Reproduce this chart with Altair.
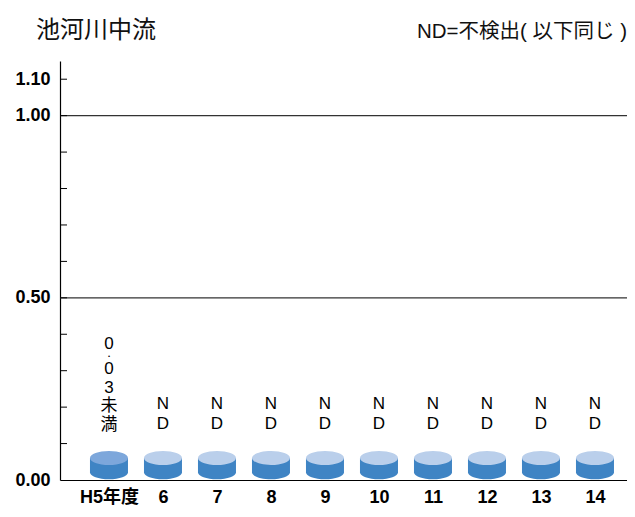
import altair as alt
import pandas as pd

# ---- data ----
categories = ["H5年度", "6", "7", "8", "9", "10", "11", "12", "13", "14"]
labels = ["0.03未満", "ND", "ND", "ND", "ND", "ND", "ND", "ND", "ND", "ND"]
status = ["lt", "nd", "nd", "nd", "nd", "nd", "nd", "nd", "nd", "nd"]
y_label_values = [0.0, 0.5, 1.0, 1.1]
grid_values = [0.5, 1.0]
minor_ticks = [0.1, 0.2, 0.3, 0.4, 0.5, 0.6, 0.7, 0.8, 0.9, 1.0, 1.1]
title_text = "池河川中流"
note_text = "ND=不検出( 以下同じ )"

FONT = "'Liberation Sans', 'Noto Sans CJK JP', sans-serif"
CJK = "'Noto Sans CJK JP', sans-serif"

df = pd.DataFrame({"i": list(range(len(categories))), "category": categories,
                   "label": labels, "status": status})

# labels are written vertically, one character per line; the integer part and the
# decimal point of "0.03未満" are set tighter, as in the reference
df["head"] = [l.split(".")[0] if "." in l else "" for l in labels]
df["dot"] = ["•" if "." in l else "" for l in labels]
df["rest"] = ["\n".join(l.split(".")[1] if "." in l else l) for l in labels]

W, H = 567, 419
xscale = alt.Scale(domain=[-0.907, 9.593], nice=False, zero=False)
yscale = alt.Scale(domain=[0, 1.15], nice=False, zero=True)

label_expr = "[" + ",".join("'" + c + "'" for c in categories) + "][datum.value]"
xaxis = alt.Axis(values=list(range(len(categories))), labelExpr=label_expr, ticks=False,
                 grid=False, title=None, labelPadding=8, labelFontSize=18,
                 labelFontWeight="bold", labelFont=FONT, labelColor="#000",
                 domainColor="#000", domainWidth=1.2, labelFlush=False)
yaxis = alt.Axis(values=y_label_values, format=".2f", ticks=False, grid=False, title=None,
                 labelPadding=10, labelFontSize=18, labelFontWeight="bold", labelFont=FONT,
                 labelColor="#000", domainColor="#000", domainWidth=1.2)

X = alt.X("i:Q", scale=xscale, axis=xaxis)
Y0 = alt.YDatum(0, type="quantitative", scale=yscale, axis=yaxis)

base = alt.Chart(df)

grid = alt.Chart(pd.DataFrame({"v": grid_values})).mark_rule(color="#333", strokeWidth=1.2).encode(
    y=alt.Y("v:Q", scale=yscale, axis=yaxis))

ticks = alt.Chart(pd.DataFrame({"v": minor_ticks})).mark_rule(color="#000", strokeWidth=1).encode(
    y=alt.Y("v:Q", scale=yscale, axis=yaxis), x=alt.value(0), x2=alt.value(7))

body_path = "M-1,-1.16 L-1,-0.405 A1,0.37 0 0,0 1,-0.405 L1,-1.16 Z"
top_path = "M-1,-1.16 A1,0.37 0 1,0 1,-1.16 A1,0.37 0 1,0 -1,-1.16 Z"
CYL_SIZE = 38 * 38

body = base.mark_point(shape=body_path, filled=True, opacity=1, strokeWidth=0,
                       size=CYL_SIZE, color="#3F84C4").encode(x=X, y=Y0)
top = base.mark_point(shape=top_path, filled=True, opacity=1, strokeWidth=0,
                      size=CYL_SIZE).encode(
    x=X, y=Y0,
    color=alt.Color("status:N", scale=alt.Scale(domain=["lt", "nd"], range=["#7DA7DB", "#BACFEB"]),
                    legend=None))

nd_text = base.transform_filter(alt.datum.status == "nd").mark_text(
    font=FONT, fontSize=17, lineBreak="\n", lineHeight=20, baseline="middle",
    align="center", color="#000", dy=-76).encode(x=X, y=Y0, text="rest:N")

lt = base.transform_filter(alt.datum.status == "lt")
lt_head = lt.mark_text(font=FONT, fontSize=17, baseline="middle", align="center",
                       color="#000", dy=-136).encode(x=X, y=Y0, text="head:N")
lt_dot = lt.mark_text(font=FONT, fontSize=6, baseline="middle", align="center",
                      color="#000", dy=-124).encode(x=X, y=Y0, text="dot:N")
lt_rest = lt.mark_text(font=FONT, fontSize=17, lineBreak="\n", lineHeight=18.7,
                       baseline="middle", align="center", color="#000", dy=-111).encode(
    x=X, y=Y0, text="rest:N")

title = alt.Chart(pd.DataFrame({"t": [title_text]})).mark_text(
    font=CJK, fontSize=24, align="left", baseline="middle", color="#111").encode(
    x=alt.value(-24), y=alt.value(-30), text="t:N")

note = alt.Chart(pd.DataFrame({"t": [note_text]})).mark_text(
    font=FONT, fontSize=20.5, align="right", baseline="middle", color="#111").encode(
    x=alt.value(W), y=alt.value(-29), text="t:N")

chart = alt.layer(grid, ticks, body, top, nd_text, lt_head, lt_dot, lt_rest, title, note).properties(
    width=W, height=H, autosize=alt.AutoSizeParams(type="none"),
    padding={"left": 52, "top": 53, "right": 0, "bottom": 30}
).configure_view(stroke=None)

chart.save("out.html", embed_options={"renderer": "svg", "actions": False})
